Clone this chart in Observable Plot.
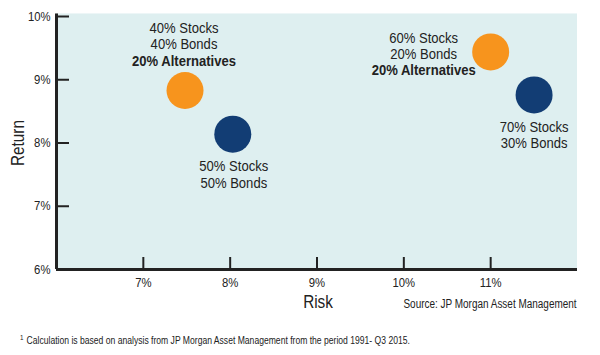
<!DOCTYPE html>
<html>
<head>
<meta charset="utf-8">
<script src="https://cdn.jsdelivr.net/npm/d3@7"></script>
<script src="https://cdn.jsdelivr.net/npm/@observablehq/plot@0.6"></script>
<style>
  html, body { margin: 0; padding: 0; background: #fff; }
  #wrap { position: relative; width: 600px; height: 355px; font-family: "Liberation Sans Narrow", "Arial Narrow", "Liberation Sans", Arial, sans-serif; color: #222; }
  .ov { position: absolute; white-space: nowrap; line-height: 1; }
  #source { right: 23px; top: 298px; font-size: 12px; transform: scaleX(0.83); transform-origin: right center; }
  #note { left: 20px; top: 334px; font-size: 11px; transform: scaleX(0.78); transform-origin: left center; }
  #note sup { font-size: 8px; vertical-align: 4px; margin-right: 4px; }
  #risk { left: 318px; top: 302px; font-size: 18px; transform: translate(-50%, -50%) scaleX(0.85); }
  #ret { left: 18px; top: 143px; font-size: 18px; transform: translate(-50%, -50%) rotate(-90deg) scaleX(0.85); }
</style>
</head>
<body>
<div id="wrap">
  <div id="chart"></div>
  <div class="ov" id="ret">Return</div>
  <div class="ov" id="risk">Risk</div>
  <div class="ov" id="source">Source: JP Morgan Asset Management</div>
  <div class="ov" id="note"><sup>1</sup>Calculation is based on analysis from JP Morgan Asset Management from the period 1991- Q3 2015.</div>
</div>
<script>
// Portfolios
const names = ["40/40/20", "50/50", "60/20/20", "70/30"];
const risk = [7.48, 8.03, 11.0, 11.5];
const ret = [8.83, 8.14, 9.44, 8.76];
const kind = ["alt", "trad", "alt", "trad"];

// Label lines (portfolio index, text, bold)
const labelPortfolio = [0, 0, 0, 1, 1, 2, 2, 2, 3, 3];
const labelText = ["40% Stocks", "40% Bonds", "20% Alternatives", "50% Stocks", "50% Bonds",
                   "60% Stocks", "20% Bonds", "20% Alternatives", "70% Stocks", "30% Bonds"];
const labelBold = [false, false, true, false, false, false, false, true, false, false];

// Ticks
const xTicks = [7, 8, 9, 10, 11];
const yTicks = [6, 7, 8, 9, 10];

// Label placement offsets (px)
const labelDx = [-1, -1, -1, 1, 1, -67, -67, -67, 0, 0];
const labelDy = [-62.5, -46.5, -29.5, 32, 49.5, -14, 2, 18.5, 32, 48];

const points = names.map((n, i) => ({name: n, risk: risk[i], ret: ret[i], kind: kind[i]}));
const labels = labelText.map((t, i) => ({
  risk: risk[labelPortfolio[i]], ret: ret[labelPortfolio[i]], text: t, bold: labelBold[i], dx: labelDx[i], dy: labelDy[i]
}));

const font = '"Liberation Sans Narrow", "Arial Narrow", "Liberation Sans", Arial, sans-serif';

const textMarks = labels.map(l => Plot.text([l], {
  x: "risk", y: "ret", text: "text", dx: l.dx, dy: l.dy,
  fontSize: 15, fontWeight: l.bold ? "bold" : "normal", fill: "#222", fontFamily: font
}));

const chart = Plot.plot({
  width: 600,
  height: 355,
  marginLeft: 56,
  marginRight: 23,
  marginTop: 16,
  marginBottom: 86,
  style: {fontFamily: font, background: "transparent"},
  x: {domain: [6, 12]},
  y: {domain: [6, 10]},
  color: {domain: ["alt", "trad"], range: ["#f7941d", "#123d74"]},
  marks: [
    Plot.rect([{}], {x1: 6, x2: 12, y1: 6, y2: 10.04, fill: "#deeff0"}),
    Plot.ruleY(yTicks, {x1: 6, x2: 6.15, stroke: "#222", strokeWidth: 2}),
    Plot.ruleX(xTicks, {y1: 6, y2: 6.19, stroke: "#222", strokeWidth: 2}),
    Plot.ruleX([6], {y1: 6, y2: 10.04, stroke: "#222", strokeWidth: 3}),
    Plot.ruleY([6], {x1: 6, x2: 12, stroke: "#222", strokeWidth: 3}),
    Plot.axisY(yTicks, {tickSize: 0, tickPadding: 6, tickFormat: d => d + "%", fontSize: 13, fill: "#222", label: null}),
    Plot.axisX(xTicks, {tickSize: 0, tickPadding: 8, tickFormat: d => d + "%", fontSize: 13, fill: "#222", label: null}),
    Plot.dot(points, {x: "risk", y: "ret", r: 18.5, fill: "kind", stroke: null}),
    ...textMarks
  ]
});
document.getElementById("chart").appendChild(chart);
// condense text horizontally (no narrow font installed)
d3.select(chart).selectAll("text").each(function () {
  const len = this.getComputedTextLength();
  if (len > 0) {
    this.setAttribute("textLength", (len * 0.87).toFixed(1));
    this.setAttribute("lengthAdjust", "spacingAndGlyphs");
  }
});
</script>
</body>
</html>
